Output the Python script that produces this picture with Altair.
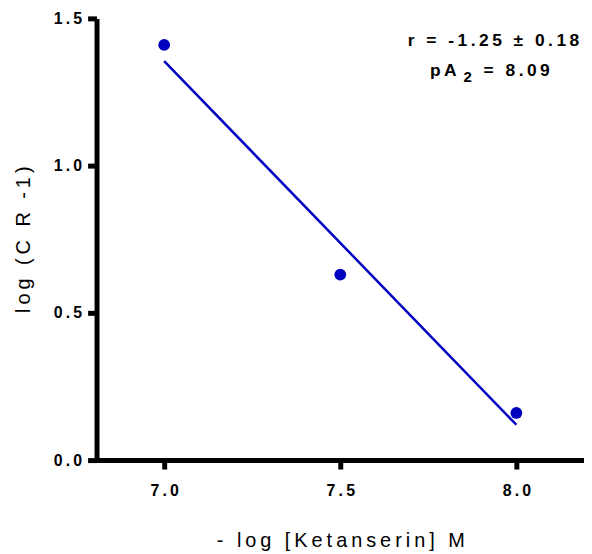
import altair as alt
import pandas as pd

conc = [7.0, 7.5, 8.0]
log_cr = [1.41, 0.63, 0.16]
fit_x = [7.0, 8.0]
fit_y = [1.355, 0.12]
x_ticks = [7.0, 7.5, 8.0]
y_ticks = [0.0, 0.5, 1.0, 1.5]
x_title = "- log [Ketanserin] M"
y_title = "log (C R -1)"
annot_r = "r = -1.25 ± 0.18"
annot_pa = ["pA", "2", "= 8.09"]

THIN = "\u2009"


def spaced(s):
    return THIN.join(list(s))


pts = pd.DataFrame({"x": conc, "y": log_cr})
fit = pd.DataFrame({"x": fit_x, "y": fit_y})

BLUE = "#0000c0"
FONT = "Liberation Sans"

xs = alt.Scale(domain=[6.808, 8.192], nice=False, zero=False)
ys = alt.Scale(domain=[0, 1.5], nice=False)

lbl_expr = "join(split(datum.label, ''), '" + THIN + "')"

xaxis = alt.Axis(values=x_ticks, format=".1f", labelExpr=lbl_expr, title=spaced(x_title),
                 grid=False, domainWidth=5, domainColor="black", tickWidth=5, tickSize=9,
                 tickColor="black", labelFont=FONT, labelFontWeight="bold", labelFontSize=16,
                 labelColor="black", labelPadding=14, titleFont=FONT, titleFontWeight="normal",
                 titleFontSize=20, titleColor="black", titlePadding=32)
yaxis = alt.Axis(values=y_ticks, format=".1f", labelExpr=lbl_expr, title=spaced(y_title),
                 grid=False, domainWidth=5, domainColor="black", tickWidth=5, tickSize=9,
                 tickColor="black", labelFont=FONT, labelFontWeight="bold", labelFontSize=16,
                 labelColor="black", labelPadding=6, titleFont=FONT, titleFontWeight="normal",
                 titleFontSize=20, titleColor="black", titlePadding=20)

line = alt.Chart(fit).mark_line(color=BLUE, strokeWidth=2.5).encode(
    x=alt.X("x:Q", scale=xs, axis=xaxis), y=alt.Y("y:Q", scale=ys, axis=yaxis))
points = alt.Chart(pts).mark_point(filled=True, color=BLUE, size=140, opacity=1).encode(
    x=alt.X("x:Q", scale=xs), y=alt.Y("y:Q", scale=ys))


def txt(s, x, y, align, size=17.5):
    return alt.Chart(pd.DataFrame({"t": [s]})).mark_text(
        font=FONT, fontWeight="bold", fontSize=size, color="black", align=align,
        baseline="middle").encode(text="t:N", x=alt.value(x), y=alt.value(y))


t1 = txt(spaced(annot_r), 399, 23, "center")
t2a = txt(spaced(annot_pa[0]), 362, 53, "right")
t2b = txt(annot_pa[1], 373, 59, "center", 15)
t2c = txt(spaced(annot_pa[2]), 389, 53, "left")

chart = alt.layer(line, points, t1, t2a, t2b, t2c).properties(
    width=490, height=444,
    autosize=alt.AutoSizeParams(type="none"),
    padding={"left": 89, "top": 9, "right": 0, "bottom": 100},
).configure(background="white").configure_view(stroke=None)

chart.save("out.html", embed_options={"renderer": "svg", "actions": False})
